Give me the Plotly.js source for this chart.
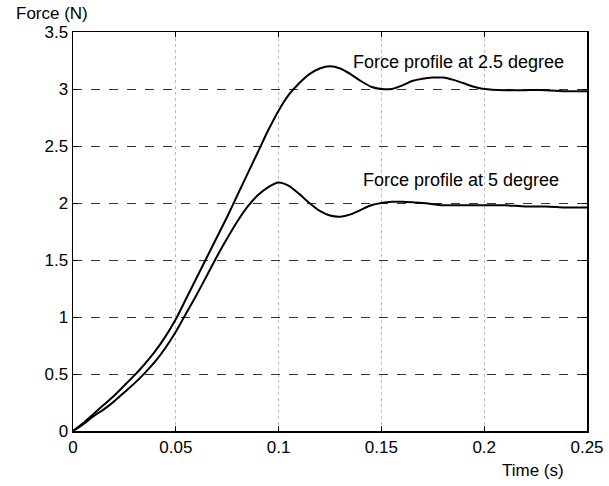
<!DOCTYPE html>
<html>
<head>
<meta charset="utf-8">
<script src="https://cdn.plot.ly/plotly-3.0.1.min.js"></script>
<style>html,body{margin:0;padding:0;background:#fff;}#chart{width:609px;height:486px;}</style>
</head>
<body>
<div id="chart"></div>
<script>
// Time (s)
const time25 = [0,0.005,0.01,0.015,0.02,0.025,0.03,0.035,0.04,0.045,0.05,0.055,0.06,0.065,0.07,0.075,0.08,0.085,0.09,0.095,0.1,0.105,0.11,0.115,0.12,0.125,0.13,0.135,0.14,0.145,0.15,0.155,0.16,0.165,0.17,0.175,0.18,0.185,0.19,0.195,0.2,0.21,0.22,0.23,0.24,0.25];
// Force profile at 2.5 degree (N)
const force25 = [0,0.07,0.15,0.23,0.31,0.40,0.49,0.59,0.70,0.83,0.98,1.16,1.34,1.52,1.70,1.88,2.07,2.26,2.45,2.64,2.81,2.95,3.05,3.13,3.18,3.20,3.18,3.13,3.07,3.02,3.00,3.00,3.03,3.07,3.09,3.10,3.10,3.08,3.05,3.02,3.00,2.99,2.99,2.99,2.98,2.98];
const time5 = [0,0.005,0.01,0.015,0.02,0.025,0.03,0.035,0.04,0.045,0.05,0.055,0.06,0.065,0.07,0.075,0.08,0.085,0.09,0.095,0.1,0.105,0.11,0.115,0.12,0.125,0.13,0.135,0.14,0.145,0.15,0.155,0.16,0.17,0.18,0.19,0.2,0.21,0.22,0.23,0.24,0.25];
// Force profile at 5 degree (N)
const force5 = [0,0.06,0.13,0.19,0.26,0.34,0.42,0.51,0.61,0.73,0.87,1.03,1.19,1.36,1.53,1.69,1.84,1.97,2.07,2.14,2.18,2.15,2.08,2.00,1.93,1.89,1.88,1.90,1.94,1.98,2.00,2.01,2.01,2.00,1.98,1.98,1.98,1.98,1.97,1.97,1.96,1.96];
const xTicks = [0,0.05,0.1,0.15,0.2,0.25];
const xTickText = ["0","0.05","0.1","0.15","0.2","0.25"];
const yTicks = [0,0.5,1,1.5,2,2.5,3,3.5];
const yTickText = ["0","0.5","1","1.5","2","2.5","3","3.5"];
const labels = ["Force profile at 2.5 degree","Force profile at 5 degree"];

const font = "Liberation Sans, Arial, sans-serif";
const traces = [
  {x: time25, y: force25, mode: "lines", line: {color: "#000", width: 2, shape: "spline", smoothing: 0.6}, showlegend: false, hoverinfo: "skip"},
  {x: time5, y: force5, mode: "lines", line: {color: "#000", width: 2, shape: "spline", smoothing: 0.6}, showlegend: false, hoverinfo: "skip"}
];
const axisCommon = {
  showline: true, linecolor: "#000", linewidth: 1.5, mirror: "ticks",
  ticks: "inside", ticklen: 5, tickcolor: "#000", tickwidth: 1,
  showgrid: true, gridwidth: 1,
  zeroline: false, tickfont: {family: font, size: 17, color: "#000"}
};
const layout = {
  width: 609, height: 486,
  margin: {l: 73, r: 22, t: 32, b: 55},
  paper_bgcolor: "#fff", plot_bgcolor: "#fff",
  xaxis: Object.assign({}, axisCommon, {range: [0, 0.25], tickvals: xTicks, ticktext: xTickText, griddash: "dot", gridcolor: "#bbb"}),
  yaxis: Object.assign({}, axisCommon, {range: [0, 3.5], tickvals: yTicks, ticktext: yTickText, griddash: "dash", gridcolor: "#333"}),
  annotations: [
    {text: labels[0], x: 0.1873, y: 3.24, xref: "x", yref: "y", xanchor: "center", yanchor: "middle", showarrow: false, font: {family: font, size: 18, color: "#000"}},
    {text: labels[1], x: 0.1887, y: 2.20, xref: "x", yref: "y", xanchor: "center", yanchor: "middle", showarrow: false, font: {family: font, size: 18, color: "#000"}},
    {text: "Force (N)", x: -0.0418, y: 1.047, xref: "paper", yref: "paper", xanchor: "center", yanchor: "middle", showarrow: false, font: {family: font, size: 17, color: "#000"}},
    {text: "Time (s)", x: 0.894, y: -0.098, xref: "paper", yref: "paper", xanchor: "center", yanchor: "middle", showarrow: false, font: {family: font, size: 17, color: "#000"}}
  ]
};
Plotly.newPlot("chart", traces, layout, {staticPlot: true, displayModeBar: false});
</script>
</body>
</html>
